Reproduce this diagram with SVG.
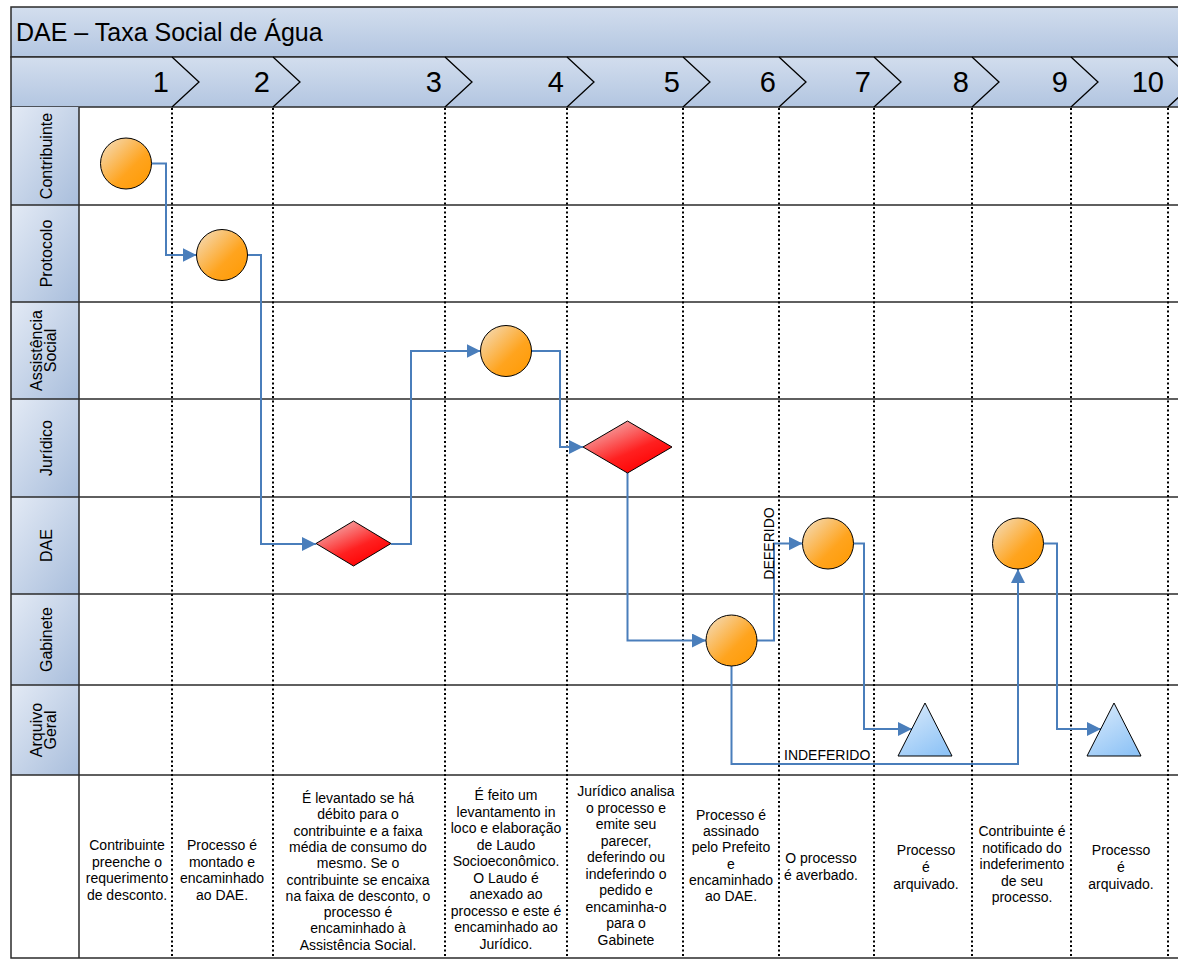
<svg xmlns="http://www.w3.org/2000/svg" width="1178" height="960" viewBox="0 0 1178 960">
<defs>
<linearGradient id="gHdr" x1="0" y1="0" x2="0.05" y2="1"><stop offset="0" stop-color="#d3deee"/><stop offset="1" stop-color="#b3c6e1"/></linearGradient>
<linearGradient id="gLane" x1="0" y1="0" x2="1" y2="1"><stop offset="0" stop-color="#e3eaf5"/><stop offset="1" stop-color="#a9bedc"/></linearGradient>
<linearGradient id="gCirc" x1="0" y1="0" x2="1" y2="1"><stop offset="0" stop-color="#f3e0c4"/><stop offset="0.6" stop-color="#ffa41e"/><stop offset="1" stop-color="#ff9900"/></linearGradient>
<linearGradient id="gDia" x1="0.2" y1="0.1" x2="0.8" y2="0.9"><stop offset="0" stop-color="#f4a6a6"/><stop offset="0.6" stop-color="#ff2020"/><stop offset="1" stop-color="#ff0000"/></linearGradient>
<linearGradient id="gTri" x1="0.2" y1="0" x2="0.8" y2="1"><stop offset="0" stop-color="#d7e9fb"/><stop offset="1" stop-color="#8ec3f6"/></linearGradient>
<marker id="arr" markerUnits="userSpaceOnUse" markerWidth="15" markerHeight="15" refX="14" refY="7" orient="auto"><path d="M0,0 L14,7 L0,14 z" fill="#4a7ebb"/></marker>
</defs>
<style>
.bd{stroke:#2b2b2b;stroke-width:1.5;fill:none}
.hdr{stroke:#2b2b2b;stroke-width:1.5;fill:url(#gHdr)}
.dot{stroke:#000;stroke-width:2;stroke-dasharray:2,2.5;fill:none}
.chev{stroke:#000;stroke-width:1.3;fill:none}
.ttl{font-family:"Liberation Sans",Arial,sans-serif;font-size:25px;fill:#000}
.num{font-family:"Liberation Sans",Arial,sans-serif;font-size:29px;fill:#000;text-anchor:end}
.lane{font-family:"Liberation Sans",Arial,sans-serif;font-size:16px;fill:#000;text-anchor:middle}
.desc{font-family:"Liberation Sans",Arial,sans-serif;font-size:14px;fill:#000;text-anchor:middle}
.lbl{font-family:"Liberation Sans",Arial,sans-serif;font-size:14px;fill:#000}
.circ{fill:url(#gCirc);stroke:#000;stroke-width:1}
.dia{fill:url(#gDia);stroke:#000;stroke-width:1}
.tri{fill:url(#gTri);stroke:#000;stroke-width:1}
.cn{fill:none;stroke:#4a7ebb;stroke-width:2}
</style>
<rect x="0" y="0" width="1178" height="960" fill="#fff"/>
<g id="title">
<rect x="11" y="7" width="1180" height="50" class="hdr"/>
<text class="ttl" x="16" y="41">DAE – Taxa Social de Água</text>
</g>
<g id="phases">
<rect x="11" y="57" width="1180" height="50" class="hdr"/>
<path class="chev" d="M172,57 L199,82 L172,107 M273,57 L300,82 L273,107 M445,57 L472,82 L445,107 M567,57 L594,82 L567,107 M683,57 L710,82 L683,107 M779,57 L806,82 L779,107 M874,57 L901,82 L874,107 M972,57 L999,82 L972,107 M1071,57 L1098,82 L1071,107 M1168,57 L1195,82 L1168,107"/>
<text class="num" x="169" y="92">1</text>
<text class="num" x="270" y="92">2</text>
<text class="num" x="442" y="92">3</text>
<text class="num" x="564" y="92">4</text>
<text class="num" x="680" y="92">5</text>
<text class="num" x="776" y="92">6</text>
<text class="num" x="871" y="92">7</text>
<text class="num" x="969" y="92">8</text>
<text class="num" x="1068" y="92">9</text>
<text class="num" x="1164" y="92">10</text>
</g>
<g id="lanes">
<rect x="11" y="107" width="68" height="98" fill="url(#gLane)"/>
<rect x="11" y="205" width="68" height="97" fill="url(#gLane)"/>
<rect x="11" y="302" width="68" height="97" fill="url(#gLane)"/>
<rect x="11" y="399" width="68" height="98" fill="url(#gLane)"/>
<rect x="11" y="497" width="68" height="97" fill="url(#gLane)"/>
<rect x="11" y="594" width="68" height="91" fill="url(#gLane)"/>
<rect x="11" y="685" width="68" height="90" fill="url(#gLane)"/>
<path class="bd" d="M11,107 V958 H1191 M79,107 V958 M11,205 H1191 M11,302 H1191 M11,399 H1191 M11,497 H1191 M11,594 H1191 M11,685 H1191 M11,775 H1191"/>
<text class="lane" transform="translate(51.5,156) rotate(-90)">Contribuinte</text>
<text class="lane" transform="translate(51.5,253.5) rotate(-90)">Protocolo</text>
<text class="lane" transform="translate(42,350.5) rotate(-90)">Assistência</text>
<text class="lane" transform="translate(56,350.5) rotate(-90)">Social</text>
<text class="lane" transform="translate(51.5,448) rotate(-90)">Jurídico</text>
<text class="lane" transform="translate(51.5,545.5) rotate(-90)">DAE</text>
<text class="lane" transform="translate(51.5,639.5) rotate(-90)">Gabinete</text>
<text class="lane" transform="translate(42,730) rotate(-90)">Arquivo</text>
<text class="lane" transform="translate(56,730) rotate(-90)">Geral</text>
</g>
<g id="dividers">
<path class="dot" d="M172,108 V958 M273,108 V958 M445,108 V958 M567,108 V958 M683,108 V958 M779,108 V958 M874,108 V958 M972,108 V958 M1071,108 V958 M1168,108 V958"/>
</g>
<g id="connectors">
<path class="cn" marker-end="url(#arr)" d="M151.5,163.5 H166 V255 H196.5"/>
<path class="cn" marker-end="url(#arr)" d="M247.5,255 H261 V544 H316"/>
<path class="cn" marker-end="url(#arr)" d="M391,544 H411 V351 H480.5"/>
<path class="cn" marker-end="url(#arr)" d="M531.5,351 H560 V447 H583"/>
<path class="cn" marker-end="url(#arr)" d="M627.5,473 V640.5 H706"/>
<path class="cn" marker-end="url(#arr)" d="M757,640.5 H774 V543.5 H802.5"/>
<path class="cn" marker-end="url(#arr)" d="M853.5,543.5 H864 V729 H912"/>
<path class="cn" marker-end="url(#arr)" d="M731.5,666 V764 H1018 V569"/>
<path class="cn" marker-end="url(#arr)" d="M1043.5,543.5 H1057 V729 H1101"/>
<text class="lbl" text-anchor="middle" transform="translate(774,543.5) rotate(-90)">DEFERIDO</text>
<text class="lbl" x="784" y="760">INDEFERIDO</text>
</g>
<g id="n1"><circle class="circ" cx="126" cy="163.5" r="25.5"/></g>
<g id="n2"><circle class="circ" cx="222" cy="255" r="25.5"/></g>
<g id="n3"><path class="dia" d="M316,543.5 L353.5,521 L391,543.5 L353.5,566 z"/></g>
<g id="n4"><circle class="circ" cx="506" cy="351" r="25.5"/></g>
<g id="n5"><path class="dia" d="M583,447 L627.5,421 L672,447 L627.5,473 z"/></g>
<g id="n6"><circle class="circ" cx="731.5" cy="640.5" r="25.5"/></g>
<g id="n7"><circle class="circ" cx="828" cy="543.5" r="25.5"/></g>
<g id="n8"><path class="tri" d="M925,703 L952,756 L898,756 z"/></g>
<g id="n9"><circle class="circ" cx="1018" cy="543.5" r="25.5"/></g>
<g id="n10"><path class="tri" d="M1114,703 L1141,756 L1087,756 z"/></g>
<g id="descriptions">
<text class="desc" x="127" y="850"><tspan x="127">Contribuinte</tspan><tspan x="127" dy="16.5">preenche o</tspan><tspan x="127" dy="16.5">requerimento</tspan><tspan x="127" dy="16.5">de desconto.</tspan></text>
<text class="desc" x="222" y="850"><tspan x="222">Processo é</tspan><tspan x="222" dy="16.5">montado e</tspan><tspan x="222" dy="16.5">encaminhado</tspan><tspan x="222" dy="16.5">ao DAE.</tspan></text>
<text class="desc" x="358" y="803"><tspan x="358">É levantado se há</tspan><tspan x="358" dy="16.3">débito para o</tspan><tspan x="358" dy="16.3">contribuinte e a faixa</tspan><tspan x="358" dy="16.3">média de consumo do</tspan><tspan x="358" dy="16.3">mesmo. Se o</tspan><tspan x="358" dy="16.3">contribuinte se encaixa</tspan><tspan x="358" dy="16.3">na faixa de desconto, o</tspan><tspan x="358" dy="16.3">processo é</tspan><tspan x="358" dy="16.3">encaminhado à</tspan><tspan x="358" dy="16.3">Assistência Social.</tspan></text>
<text class="desc" x="506" y="800"><tspan x="506">É feito um</tspan><tspan x="506" dy="16.5">levantamento in</tspan><tspan x="506" dy="16.5">loco e elaboração</tspan><tspan x="506" dy="16.5">de Laudo</tspan><tspan x="506" dy="16.5">Socioeconômico.</tspan><tspan x="506" dy="16.5">O Laudo é</tspan><tspan x="506" dy="16.5">anexado ao</tspan><tspan x="506" dy="16.5">processo e este é</tspan><tspan x="506" dy="16.5">encaminhado ao</tspan><tspan x="506" dy="16.5">Jurídico.</tspan></text>
<text class="desc" x="626" y="796"><tspan x="626">Jurídico analisa</tspan><tspan x="626" dy="16.5">o processo e</tspan><tspan x="626" dy="16.5">emite seu</tspan><tspan x="626" dy="16.5">parecer,</tspan><tspan x="626" dy="16.5">deferindo ou</tspan><tspan x="626" dy="16.5">indeferindo o</tspan><tspan x="626" dy="16.5">pedido e</tspan><tspan x="626" dy="16.5">encaminha-o</tspan><tspan x="626" dy="16.5">para o</tspan><tspan x="626" dy="16.5">Gabinete</tspan></text>
<text class="desc" x="731" y="820"><tspan x="731">Processo é</tspan><tspan x="731" dy="16.2">assinado</tspan><tspan x="731" dy="16.2">pelo Prefeito</tspan><tspan x="731" dy="16.2">e</tspan><tspan x="731" dy="16.2">encaminhado</tspan><tspan x="731" dy="16.2">ao DAE.</tspan></text>
<text class="desc" x="821" y="863"><tspan x="821">O processo</tspan><tspan x="821" dy="16.5">é averbado.</tspan></text>
<text class="desc" x="926" y="855"><tspan x="926">Processo</tspan><tspan x="926" dy="17">é</tspan><tspan x="926" dy="17">arquivado.</tspan></text>
<text class="desc" x="1022" y="836"><tspan x="1022">Contribuinte é</tspan><tspan x="1022" dy="16.6">notificado do</tspan><tspan x="1022" dy="16.6">indeferimento</tspan><tspan x="1022" dy="16.6">de seu</tspan><tspan x="1022" dy="16.6">processo.</tspan></text>
<text class="desc" x="1121" y="855"><tspan x="1121">Processo</tspan><tspan x="1121" dy="17">é</tspan><tspan x="1121" dy="17">arquivado.</tspan></text>
</g>
</svg>
